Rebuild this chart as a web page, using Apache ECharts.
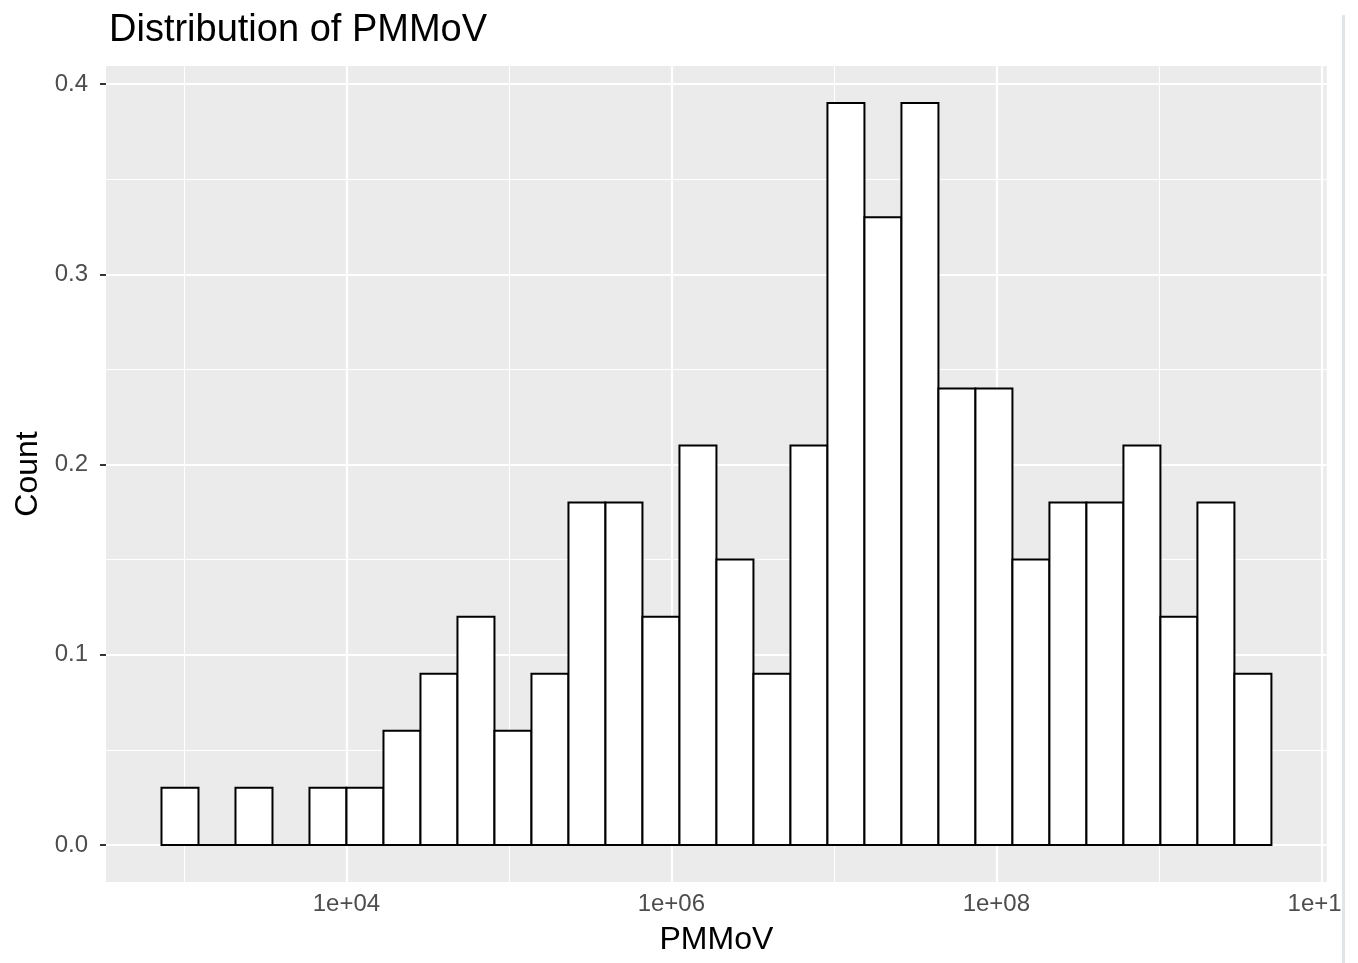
<!DOCTYPE html>
<html>
<head>
<meta charset="utf-8">
<title>Distribution of PMMoV</title>
<script src="https://cdn.jsdelivr.net/npm/echarts@6/dist/echarts.min.js"></script>
<style>
    html, body { margin: 0; padding: 0; background: #fff; }
    #chart { width: 1358px; height: 963px; }
</style>
</head>
<body>
<div id="chart"></div>
<script>
    // histogram on log10(PMMoV), 30 bins
    var binStart = 2.862;   // log10 of first bin's left edge
    var binWidth = 0.2277;  // log10 width of every bin
    var counts = [0.03, 0, 0.03, 0, 0.03, 0.03, 0.06, 0.09, 0.12, 0.06,
                  0.09, 0.18, 0.18, 0.12, 0.21, 0.15, 0.09, 0.21, 0.39, 0.33,
                  0.39, 0.24, 0.24, 0.15, 0.18, 0.18, 0.21, 0.12, 0.18, 0.09];

    var xTicks = [4, 6, 8, 10];          // 1e+04 ... 1e+10
    var xMinor = [3, 5, 7, 9];
    var yTicks = [0, 0.1, 0.2, 0.3, 0.4];
    var yMinor = [0.05, 0.15, 0.25, 0.35];

    var binData = counts.map(function (c, i) {
        return [binStart + i * binWidth, binStart + (i + 1) * binWidth, c];
    });

    function gridLines(vals, axis, w) {
        return vals.map(function (v) {
            var o = { lineStyle: { width: w } };
            o[axis] = v;
            return o;
        });
    }

    var chart = echarts.init(document.getElementById('chart'));
    var option = {
        backgroundColor: '#ffffff',
        animation: false,
        textStyle: { fontFamily: 'Liberation Sans, Arial, sans-serif' },
        title: {
            text: 'Distribution of PMMoV',
            left: 104,
            top: 7,
            textStyle: { fontSize: 38, fontWeight: 'normal', color: '#000' }
        },
        grid: {
            left: 106,
            top: 66,
            width: 1221,
            height: 816,
            show: true,
            backgroundColor: '#ebebeb',
            borderWidth: 0
        },
        xAxis: {
            type: 'value',
            min: 2.5205,
            max: 10.0335,
            name: 'PMMoV',
            nameLocation: 'middle',
            nameGap: 42,
            nameTextStyle: { fontSize: 32, color: '#000' },
            axisLine: { show: false },
            splitLine: { show: false },
            axisTick: { show: true, customValues: xTicks, length: 6, lineStyle: { color: '#333', width: 2 } },
            axisLabel: {
                customValues: xTicks,
                margin: 10,
                fontSize: 24,
                color: '#4d4d4d',
                formatter: function (v) {
                    var e = Math.round(v);
                    return '1e+' + (e < 10 ? '0' + e : e);
                }
            }
        },
        yAxis: {
            type: 'value',
            min: -0.0195,
            max: 0.4095,
            name: 'Count',
            nameLocation: 'middle',
            nameGap: 60,
            nameRotate: 90,
            nameTextStyle: { fontSize: 32, color: '#000' },
            axisLine: { show: false },
            splitLine: { show: false },
            axisTick: { show: true, customValues: yTicks, length: 6, lineStyle: { color: '#333', width: 2 } },
            axisLabel: {
                customValues: yTicks,
                margin: 18,
                fontSize: 24,
                color: '#4d4d4d',
                formatter: function (v) { return v.toFixed(1); }
            }
        },
        series: [
            {
                // panel grid lines
                type: 'line',
                data: [],
                silent: true,
                z: 1,
                markLine: {
                    silent: true,
                    symbol: 'none',
                    label: { show: false },
                    lineStyle: { color: '#ffffff', type: 'solid' },
                    data: gridLines(xMinor, 'xAxis', 1.1)
                        .concat(gridLines(yMinor, 'yAxis', 1.1))
                        .concat(gridLines(xTicks, 'xAxis', 2.2))
                        .concat(gridLines(yTicks, 'yAxis', 2.2))
                }
            },
            {
                type: 'custom',
                z: 5,
                data: binData,
                encode: { x: [0, 1], y: 2 },
                renderItem: function (params, api) {
                    var p0 = api.coord([api.value(0), api.value(2)]);
                    var p1 = api.coord([api.value(1), 0]);
                    return {
                        type: 'rect',
                        shape: { x: p0[0], y: p0[1], width: p1[0] - p0[0], height: p1[1] - p0[1] },
                        style: { fill: '#ffffff', stroke: '#000000', lineWidth: 2 }
                    };
                }
            }
        ],
        graphic: [
            {
                type: 'rect',
                z: 100,
                shape: { x: 1343, y: 0, width: 15, height: 963 },
                style: { fill: '#ffffff' }
            },
            {
                type: 'rect',
                z: 101,
                shape: { x: 1342, y: 15, width: 3, height: 948 },
                style: { fill: '#e2e5e7' }
            }
        ]
    };
    chart.setOption(option);
</script>
</body>
</html>
